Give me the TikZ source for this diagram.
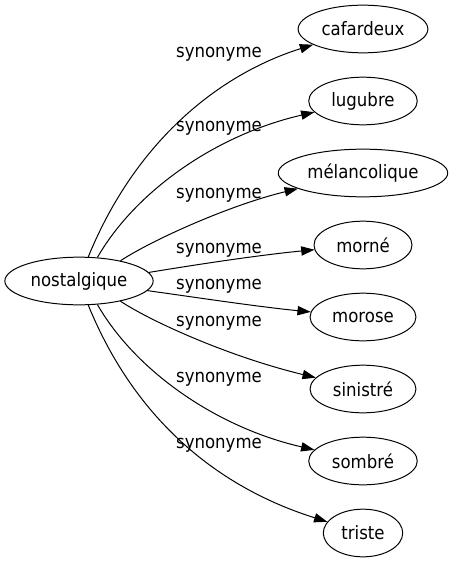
\documentclass[tikz,border=0pt]{standalone}
\usepackage{fontspec}
\setmainfont{DejaVu Sans}[FakeStretch=0.9]
\usetikzlibrary{shapes.geometric,arrows.meta}
\begin{document}
\begin{tikzpicture}[x=0.7553pt,y=-0.7553pt,
  word/.style={draw,ellipse,line width=0.75pt,inner sep=0pt,minimum height=36pt,font=\fontsize{13.9}{16}\selectfont},
  rel/.style={line width=0.75pt,-{Triangle[length=10pt,width=7pt]}},
  lab/.style={font=\fontsize{13.9}{16}\selectfont,inner sep=0pt}]
\useasboundingbox (0,0) rectangle (453,563);
\node[word,minimum width=112pt] (n) at (79,281) {nostalgique};
\node[word,minimum width=98pt] (c) at (363,29) {cafardeux};
\node[word,minimum width=82pt] (l) at (363,101) {lugubre};
\node[word,minimum width=128pt] (m) at (363,173) {mélancolique};
\node[word,minimum width=74pt] (mo) at (363,245) {morné};
\node[word,minimum width=80pt] (mr) at (363,317) {morose};
\node[word,minimum width=80pt] (si) at (363,389) {sinistré};
\node[word,minimum width=82pt] (so) at (363,461) {sombré};
\node[word,minimum width=60pt] (t) at (363,533) {triste};
\draw[rel] (n.69) .. controls (136,140) and (220,74) .. (c);
\draw[rel] (n.52) .. controls (135,192) and (215,135) .. (l);
\draw[rel] (n.26) .. controls (152,240) and (230,205) .. (m);
\draw[rel] (n.7) .. controls (200,264) and (260,255) .. (mo);
\draw[rel] (n.-8) .. controls (200,298) and (260,307) .. (mr);
\draw[rel] (n.-26) .. controls (152,322) and (230,357) .. (si);
\draw[rel] (n.-52) .. controls (135,370) and (215,427) .. (so);
\draw[rel] (n.-69) .. controls (136,422) and (220,488) .. (t);
\node[lab] (l1) at (219,54) {synonyme};
\node[lab] (l2) at (219,128) {synonyme};
\node[lab] (l3) at (219,195) {synonyme};
\node[lab] (l4) at (219,250) {synonyme};
\node[lab] (l5) at (219,286) {synonyme};
\node[lab] (l6) at (219,323) {synonyme};
\node[lab] (l7) at (219,379) {synonyme};
\node[lab] (l8) at (219,445) {synonyme};
\end{tikzpicture}
\end{document}
